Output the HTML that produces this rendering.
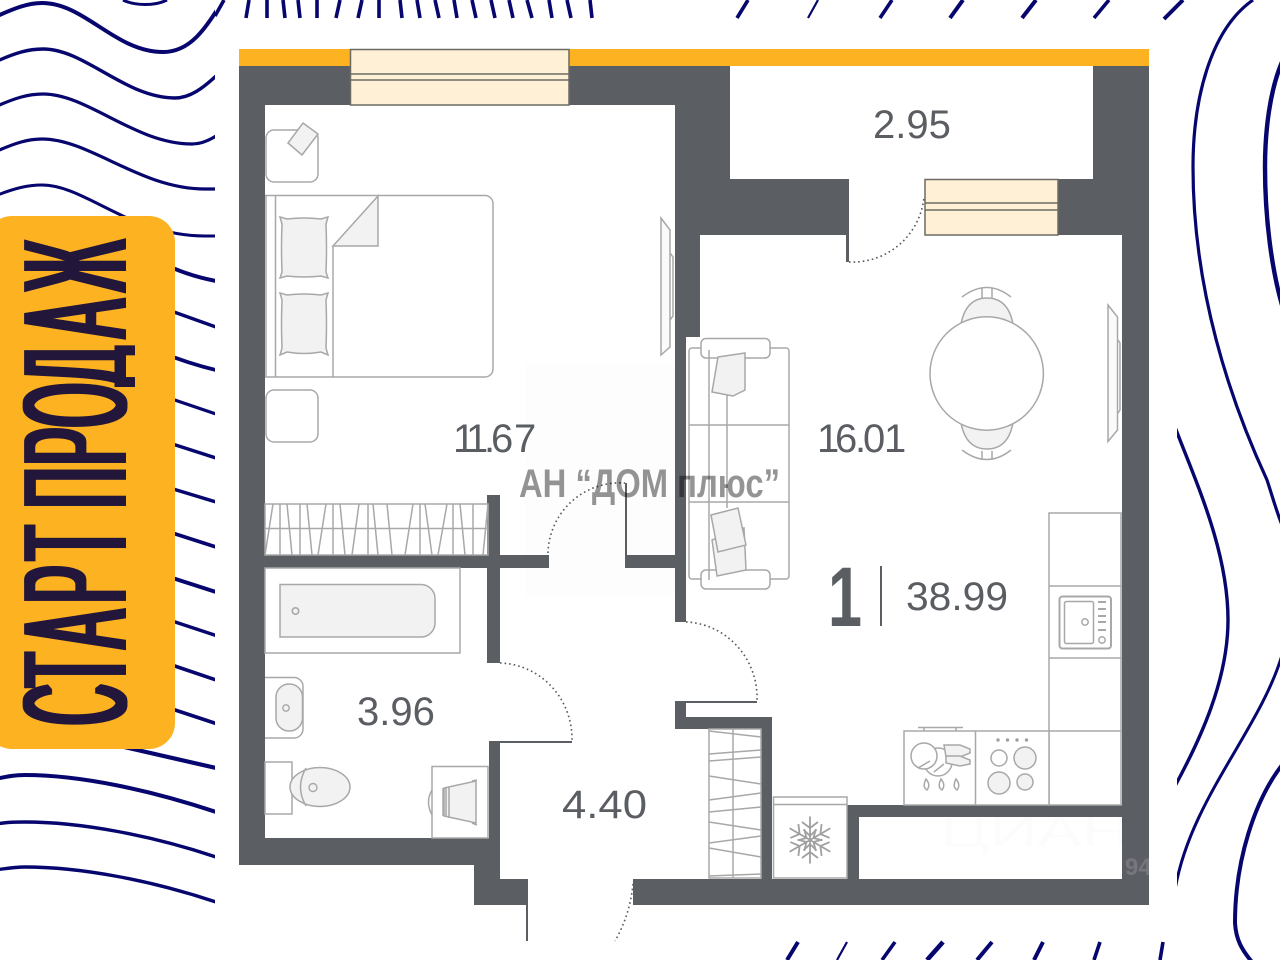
<!DOCTYPE html>
<html lang="ru">
<head>
<meta charset="utf-8">
<title>Планировка</title>
<style>
html,body{margin:0;padding:0;background:#fff;width:1280px;height:960px;overflow:hidden}
svg{display:block;font-family:"Liberation Sans",sans-serif}
.n{fill:none;stroke:#06066e;stroke-linecap:butt}
.o{fill:none;stroke:#a8a8a8;stroke-width:1.5}
.f{fill:#f2f2f2;stroke:#a8a8a8;stroke-width:1.5}
.w{fill:#fff;stroke:#a8a8a8;stroke-width:1.5}
.d{fill:none;stroke:#55585d;stroke-width:1.6;stroke-dasharray:1.6 3}
.t{fill:#5a5d62;font-size:40px}
</style>
</head>
<body>
<svg width="1280" height="960" viewBox="0 0 1280 960" xmlns="http://www.w3.org/2000/svg">
<defs>
<clipPath id="cl"><rect x="0" y="0" width="215" height="960"/></clipPath>
<clipPath id="cr"><rect x="1177" y="0" width="103" height="960"/></clipPath>
<clipPath id="cb"><rect x="0" y="216" width="135" height="533"/></clipPath>
<filter id="th" x="-5%" y="-10%" width="110%" height="120%"><feMorphology operator="dilate" radius="6 0"/></filter>
</defs>
<rect width="1280" height="960" fill="#fff"/>

<!-- left waves -->
<g clip-path="url(#cl)" class="n">
<path stroke-width="4" fill="none" d="M-5,17C15,8 28,3 42,3C85,3 115,52 163,52C190,52 205,30 225,-3"/>
<path stroke-width="3" fill="none" d="M123,0C135,6 155,6 167,0"/>
<path stroke-width="3.4" fill="none" d="M-5,62C15,53 28,49 43,49C85,49 125,98 175,98C190,98 203,88 216,76"/>
<path stroke-width="3.2" fill="none" d="M-5,107C15,98 28,94 43,94C88,94 135,144 192,144C200,144 208,141 216,136"/>
<path stroke-width="3.2" fill="none" d="M-5,152C15,143 28,139 42,139C90,139 140,189 205,189L216,189"/>
<path stroke-width="3" fill="none" d="M-5,196C15,188 28,185 42,185C85,185 130,236 205,236L216,236"/>
<path stroke-width="4" fill="none" d="M160,262Q185,275 216,281"/>
<path stroke-width="3.4" fill="none" d="M160,307L216,327"/>
<path stroke-width="3.8" fill="none" d="M160,352Q190,364 216,370"/>
<path stroke-width="3.2" fill="none" d="M160,395L216,414"/>
<path stroke-width="3.4" fill="none" d="M160,440L216,458"/>
<path stroke-width="3.4" fill="none" d="M160,485L216,502"/>
<path stroke-width="3.6" fill="none" d="M160,529L216,547"/>
<path stroke-width="4" fill="none" d="M160,574L216,592"/>
<path stroke-width="3.4" fill="none" d="M160,617L216,635.5"/>
<path stroke-width="3.6" fill="none" d="M160,661L216,680"/>
<path stroke-width="3.6" fill="none" d="M160,705L216,723.5"/>
<path stroke-width="4.2" fill="none" d="M120,746L216,768"/>
<path stroke-width="4" fill="none" d="M-5,779C10,776 15,775 25,775C80,775 150,790 216,812"/>
<path stroke-width="3.4" fill="none" d="M-5,824C10,822 15,822 25,822C80,822 150,835 216,857"/>
<path stroke-width="3.4" fill="none" d="M-5,870C10,868 15,867 25,867C80,867 150,880 216,902"/>
</g>

<!-- top strokes -->
<g class="n" stroke-width="3.6" fill="none">
<path d="M224,0L215,16"/>
<path d="M249,0L246,18"/><path d="M267,0V18"/><path d="M283,0L285,18"/><path d="M298,0L300,18"/><path d="M317,0V18"/><path d="M340,0L336,18"/><path d="M362,0L358,18"/><path d="M379,0V18"/><path d="M400,0L402,18"/><path d="M417,0L420,18"/><path d="M435,0L439,18"/><path d="M454,0L457,18"/><path d="M472,0L476,18"/><path d="M491,0L495,18"/><path d="M509,0L513,18"/><path d="M527,0L532,18"/><path d="M549,0L552,18"/><path d="M567,0L571,18"/><path d="M590,0L592,18"/>
<path d="M748,0L737,18"/><path d="M818,0L808,18" stroke-width="2.2"/><path d="M892,0L880,18"/><path d="M963,0L950,18" stroke-width="4"/><path d="M1036,0L1022,18" stroke-width="4"/><path d="M1109,0L1094,18"/><path d="M1183,0L1164,19" stroke-width="4"/>
</g>

<!-- bottom strokes -->
<g class="n" stroke-width="3.6" fill="none">
<path d="M798,942L787,960" stroke-width="4"/><path d="M847,942L837,960" stroke-width="2.2"/><path d="M895,942L882,960"/><path d="M943,942L927,960" stroke-width="4.6"/><path d="M992,942L977,960" stroke-width="4"/><path d="M1043,942L1034,960" stroke-width="4"/><path d="M1100,942L1094,960"/><path d="M1163,942L1160,960"/>
</g>

<!-- right waves -->
<g class="n" fill="none">
<path stroke-width="3.2" fill="none" d="M1253,0C1210,30 1193,100 1193,167C1193,290 1230,400 1267,480C1272,495 1276,510 1282,525"/>
<path stroke-width="4.4" fill="none" d="M1282,62C1270,90 1265,130 1265,167C1265,220 1272,270 1282,305"/>
<g clip-path="url(#cr)">
<path stroke-width="3.4" fill="none" d="M1175,427C1195,480 1228,550 1228,620C1228,680 1200,740 1175,786"/>
<path stroke-width="3" fill="none" d="M1282,655C1260,730 1190,800 1175,890"/>
</g>
<path stroke-width="4" fill="none" d="M1282,765C1255,800 1235,860 1235,923C1236,940 1242,950 1252,962"/>
</g>

<!-- banner -->
<rect x="-14" y="216" width="189" height="533" rx="26" ry="26" fill="#fdb222"/>
<g clip-path="url(#cb)">
<text transform="translate(126,725) rotate(-90) scale(.38,1)" x="0 100 203 321 434 520 571 684 784 895 1020 1140" y="0" font-size="148" fill="#21143a" filter="url(#th)">СТАРТ ПРОДАЖ</text>
</g>

<!-- faint blocks -->
<rect x="525" y="365" width="150" height="230" fill="#fdfdfe"/>

<!-- yellow strip and walls -->
<rect x="239" y="49" width="910" height="17" fill="#fdb222"/>
<g fill="#5b5e63">
<rect x="239" y="66" width="26" height="799"/>
<rect x="239" y="66" width="491" height="39"/>
<rect x="675" y="66" width="55" height="114"/>
<rect x="675" y="179" width="25" height="158"/>
<rect x="675" y="337" width="11" height="285"/>
<rect x="675" y="179" width="174" height="56"/>
<rect x="846" y="235" width="3" height="27"/>
<rect x="1058" y="179" width="91" height="56"/>
<rect x="1093" y="66" width="56" height="113"/>
<rect x="1122" y="235" width="27" height="670"/>
<rect x="633" y="879" width="516" height="26"/>
<rect x="265" y="555" width="284" height="13"/>
<rect x="625" y="555" width="50" height="13"/>
<rect x="487" y="495" width="13" height="168"/>
<rect x="625" y="483" width="2" height="72"/>
<rect x="489" y="741" width="11" height="124"/>
<rect x="489" y="741" width="83" height="2"/>
<rect x="239" y="838" width="261" height="27"/>
<rect x="474" y="865" width="26" height="40"/>
<rect x="474" y="879" width="54" height="26"/>
<rect x="526" y="905" width="2" height="36"/>
<rect x="675" y="701" width="11" height="28"/>
<rect x="675" y="701" width="82" height="2"/>
<rect x="675" y="717" width="97" height="12"/>
<rect x="761" y="717" width="11" height="162"/>
<rect x="847" y="805" width="12" height="74"/>
<rect x="847" y="805" width="275" height="12"/>
</g>

<!-- windows -->
<g fill="#fff0d6" stroke="#6b6b63" stroke-width="1.5">
<rect x="350.5" y="49.5" width="218.5" height="55.5"/>
<rect x="925" y="179.5" width="133" height="55.5"/>
</g>
<g stroke="#6b6b63" stroke-width="1.5">
<path d="M351,74H569M351,80H569"/>
<path d="M925,203H1058M925,210H1058"/>
</g>

<!-- doors -->
<path class="d" d="M849,262A72,72 0 0 0 924,197"/>
<path class="d" d="M548,553A72,72 0 0 1 625,483"/>
<path class="d" d="M500,663A74,76 0 0 1 572,740"/>
<path class="d" d="M686,622A74,76 0 0 1 757,701"/>
<path class="d" d="M633,884Q630,915 615,941"/>

<!-- bedroom furniture -->
<rect class="o" x="266" y="130" width="52" height="52" rx="8"/>
<polygon class="f" points="303,123 318,134 302,155 288,143"/>
<rect class="o" x="266" y="390" width="52" height="52" rx="8"/>
<path class="o" d="M265,195.5H485a8,8 0 0 1 8,8V369a8,8 0 0 1-8,8H265"/>
<path class="o" d="M275.5,195V377M333,246V377M266,195.5V377"/>
<polygon class="f" points="333,246 378,196 378,246"/>
<path class="f" d="M280,217L287,219Q304,217 321,219L328,217L326,224Q327,248 326,272L328,278L321,276Q304,278 287,276L280,278L282,272Q281,248 282,224Z"/>
<path class="f" d="M280,293L287,295Q304,293 321,295L328,293L326,300Q327,324 326,348L328,355L321,352Q304,355 287,352L280,355L282,348Q281,324 282,300Z"/>
<path class="f" d="M661,218L670,230V347L661,355Z" style="fill:#fafafa"/>
<path class="o" d="M670,253L673,257V316L670,320"/>

<!-- wardrobe upper -->
<g class="o" stroke-width="1.2">
<rect x="265" y="504" width="223" height="51"/>
<path d="M265,528.5H488"/>
<path d="M273,504L265,555M280,504V555M287,504L292,555M300,504V555M307,504L312,555M326,504L318,555M333,504V555M340,504L345,555M359,504L352,555M368,504V555M373,504L378,555M387,504L392,555M413,504L405,555M420,504V555M425,504L432,555M447,504L438,555M453,504V555M460,504L465,555M473,504V555M488,504L483,555"/>
</g>

<!-- bathroom -->
<rect class="o" x="265" y="568" width="195" height="85"/>
<path class="f" d="M280,584.5H421a14,14 0 0 1 14,14V623a14,14 0 0 1-14,14H280Z"/>
<circle cx="295.5" cy="611" r="3.2" fill="none" stroke="#a8a8a8" stroke-width="1.6"/>
<path class="o" d="M265,677.5H294a9,9 0 0 1 9,9V729a9,9 0 0 1-9,9H265"/>
<rect class="f" x="276" y="684" width="26.5" height="47" rx="13"/>
<circle cx="286" cy="708" r="3.2" fill="none" stroke="#a8a8a8" stroke-width="1.4"/>
<rect class="o" x="265" y="762" width="27" height="52"/>
<ellipse class="f" cx="320" cy="787" rx="30" ry="19.5"/>
<path class="o" d="M306,768Q295,787 306,806"/>
<circle cx="313" cy="787.5" r="4" fill="none" stroke="#a8a8a8" stroke-width="1.4"/>
<rect class="w" x="432" y="766.5" width="56" height="71.5"/>
<path class="o" d="M432,790Q425,802 432,815"/>
<path class="f" d="M444,788L476,781V823L444,816Z"/>
<path class="o" d="M443,788V816M446,787V817M449,787V818M472,781L477,780M472,823L477,825"/>

<!-- sofa -->
<rect class="w" x="689" y="348" width="100" height="231" rx="3"/>
<path class="o" d="M689,425H789M689,502H789"/>
<rect class="w" x="701" y="338.5" width="69" height="19.5" rx="5"/>
<rect class="w" x="701" y="570" width="69" height="19" rx="5"/>
<path class="o" d="M709,350V580M727,395V508"/>
<polygon class="f" points="718,357 745,353 745,390 733,396 712,392"/>
<polygon class="f" points="712,540 744,528 746,570 717,576"/>
<polygon class="f" points="711,515 738,508 746,545 718,552"/>

<!-- table and chairs -->
<path class="f" d="M961,324Q966,298 987,298Q1008,298 1013,324Z"/>
<path class="o" d="M962,297Q987,278 1011,297M982,288V298M992,288V298"/>
<path class="f" d="M961,423Q966,449 987,449Q1008,449 1013,423Z"/>
<path class="o" d="M962,450Q987,469 1011,450M982,451V460M992,451V460"/>
<circle class="w" cx="986.7" cy="373.5" r="56.7"/>
<path d="M1108,305L1117.5,317V430L1108,441.5Z" fill="#fafafa" stroke="#a8a8a8" stroke-width="1.5"/>
<path class="o" d="M1118,340L1120,343V410L1118,413"/>

<!-- kitchen -->
<rect class="w" x="1049" y="513" width="72" height="292"/>
<path class="o" d="M1049,586H1121M1049,658H1121M1049,731H1121"/>
<rect class="w" x="904" y="731" width="145" height="74"/>
<path class="o" d="M975.5,731V805M918,727.5H963M924,728V731M956,728V731"/>
<rect x="1059.5" y="596.5" width="51.5" height="52" rx="3" fill="none" stroke="#a8a8a8" stroke-width="2"/>
<rect x="1064.5" y="601.5" width="29" height="42" rx="2" fill="none" stroke="#a8a8a8" stroke-width="1.5"/>
<circle cx="1085" cy="622" r="3.2" fill="none" stroke="#a8a8a8" stroke-width="1.5"/>
<path d="M1098,602H1106M1098,609H1106M1098,616H1106M1098,622H1106M1098,630H1106" stroke="#a8a8a8" stroke-width="2" fill="none"/>
<circle cx="1102" cy="640" r="3.2" fill="none" stroke="#a8a8a8" stroke-width="1.5"/>
<circle cx="938" cy="762" r="14" class="f" style="fill:#fff"/>
<circle cx="924" cy="756" r="13" class="w"/>
<path class="o" d="M918,768L930,761M934,772L944,764"/>
<path class="f" d="M944,745H960L970,749V753L960,757H946Z"/>
<path class="f" d="M946,756H960L970,760V764L960,766L946,763Z"/>
<path class="o" d="M926,779Q931,785 927,790Q922,787 926,779ZM941,779Q946,785 942,790Q937,787 941,779ZM956,779Q961,785 957,790Q952,787 956,779Z"/>
<circle class="w" cx="999" cy="758" r="8"/>
<circle class="f" cx="1025" cy="758" r="11"/>
<circle class="f" cx="999" cy="783" r="11"/>
<circle class="f" cx="1025" cy="782" r="8"/>
<g fill="#a0a0a0"><circle cx="998" cy="740" r="1.7"/><circle cx="1007.5" cy="740" r="1.7"/><circle cx="1017" cy="740" r="1.7"/><circle cx="1026.5" cy="740" r="1.7"/></g>

<!-- wardrobe lower -->
<g class="o" stroke-width="1.2">
<rect x="709" y="729" width="52" height="149"/>
<path d="M733,729V878"/>
<path d="M709,731L761,737M709,754L761,750M709,761L761,757M709,776L761,784M709,800L761,793M709,812L761,807M709,822L761,830M709,843L761,836M709,848L761,857M709,876L761,874"/>
</g>

<!-- freezer -->
<rect class="w" x="773.5" y="797" width="73.5" height="81"/>
<path class="o" d="M773,804.5H847"/>
<g stroke="#a0a0a0" stroke-width="1.8" fill="none">
<g><path d="M810,840V816.5M802,822L810,828L818,822M803.5,829.5L810,836L816.5,829.5"/></g>
<g transform="rotate(60 810 840)"><path d="M810,840V816.5M802,822L810,828L818,822M803.5,829.5L810,836L816.5,829.5"/></g>
<g transform="rotate(120 810 840)"><path d="M810,840V816.5M802,822L810,828L818,822M803.5,829.5L810,836L816.5,829.5"/></g>
<g transform="rotate(180 810 840)"><path d="M810,840V816.5M802,822L810,828L818,822M803.5,829.5L810,836L816.5,829.5"/></g>
<g transform="rotate(240 810 840)"><path d="M810,840V816.5M802,822L810,828L818,822M803.5,829.5L810,836L816.5,829.5"/></g>
<g transform="rotate(300 810 840)"><path d="M810,840V816.5M802,822L810,828L818,822M803.5,829.5L810,836L816.5,829.5"/></g>
</g>

<!-- labels -->
<text class="t" x="873" y="138">2.95</text>
<text class="t" x="453 466 484 491 514" y="452">11.67</text>
<text class="t" x="817 835 855 863 884" y="452">16.01</text>
<text class="t" x="906" y="610" textLength="102" lengthAdjust="spacingAndGlyphs">38.99</text>
<text class="t" x="357" y="725">3.96</text>
<text class="t" x="562" y="818" textLength="85" lengthAdjust="spacingAndGlyphs">4.40</text>
<text x="828" y="626" font-size="84" font-weight="700" fill="#5a5d62" textLength="34" lengthAdjust="spacingAndGlyphs">1</text>
<rect x="880" y="566" width="2" height="60" fill="#5a5d62"/>

<!-- watermark -->
<text x="519" y="497" font-size="40" font-weight="700" fill="#000" fill-opacity=".42" textLength="261" lengthAdjust="spacingAndGlyphs">АН “ДОМ плюс”</text>
<text x="940" y="846" font-size="42" fill="#000" fill-opacity=".01" textLength="190" lengthAdjust="spacingAndGlyphs">ЦИАН</text>
<text x="1125" y="875" font-size="24" font-weight="700" fill="#fff" fill-opacity=".16">94</text>
</svg>
</body>
</html>
